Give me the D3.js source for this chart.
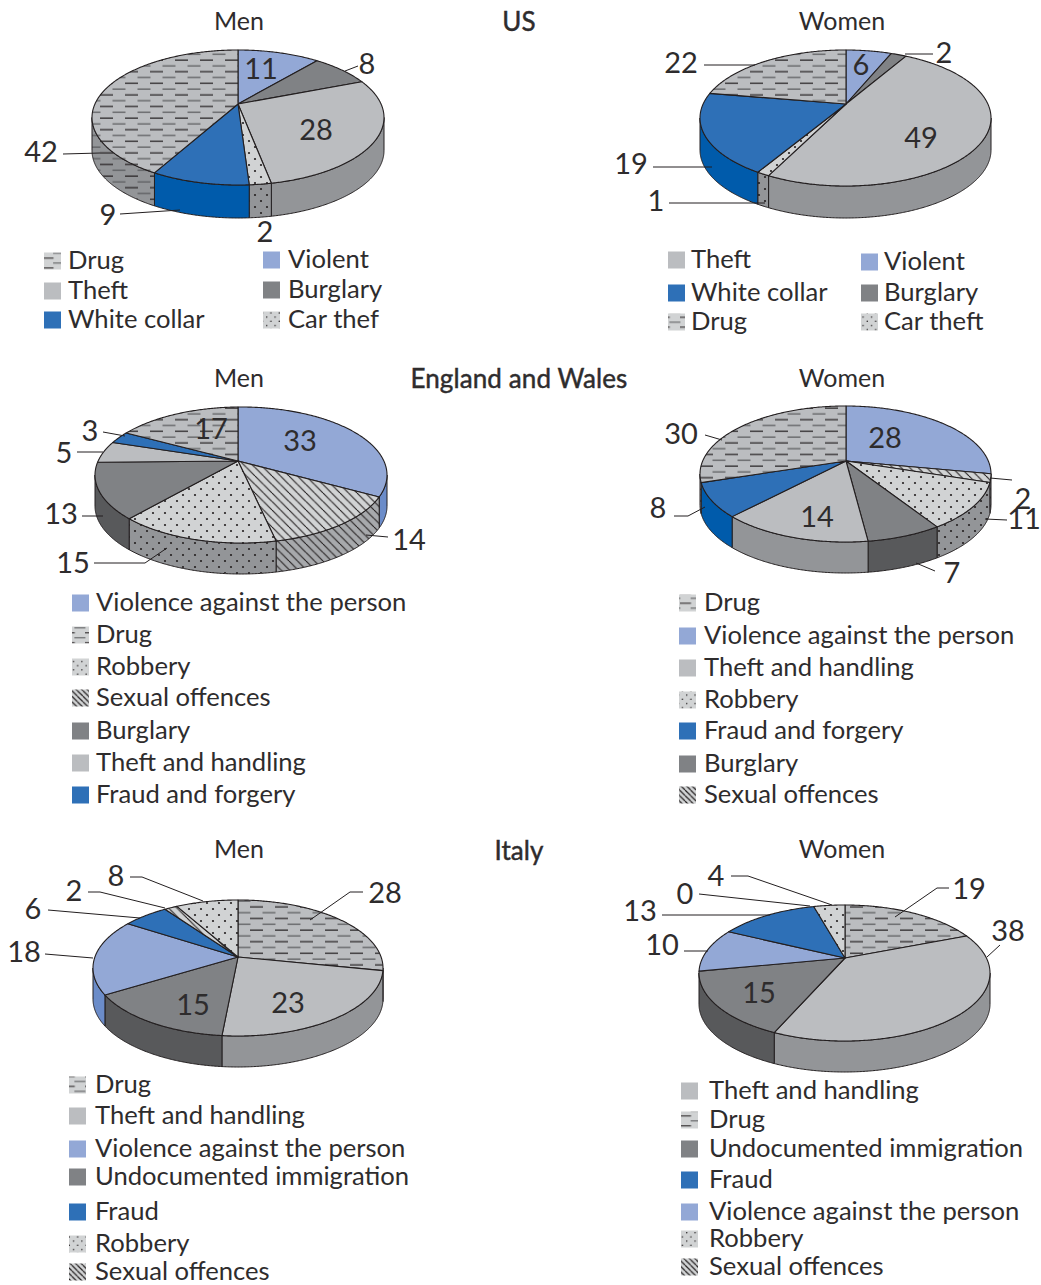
<!DOCTYPE html>
<html><head><meta charset="utf-8">
<script src="https://cdn.jsdelivr.net/npm/d3@7"></script>
<style>
html,body{margin:0;padding:0;background:#fff}
svg{display:block}
text{font-family:Lato,sans-serif;fill:#2e2c2d;font-size:25.6px}
</style></head><body><div id="c"></div>
<script>
// ---------- data ----------
const usMenCats = ["Violent","Burglary","Theft","Car theft","White collar","Drug"];
const usMenValues = [11,8,28,2,9,42];
const usMenLegendA = ["Drug","Theft","White collar"];
const usMenLegendB = ["Violent","Burglary","Car thef"];

const usWomenCats = ["Violent","Burglary","Theft","Car theft","White collar","Drug"];
const usWomenValues = [6,2,49,1,19,22];
// printed figures are rounded; these are the slice sizes as measured on the picture
const usWomenShares = [6.2,2.1,49,1.2,19.2,22.3];
const usWomenLegendA = ["Theft","White collar","Drug"];
const usWomenLegendB = ["Violent","Burglary","Car theft"];

const ewMenCats = ["Violence against the person","Sexual offences","Robbery","Burglary","Theft and handling","Fraud and forgery","Drug"];
const ewMenValues = [33,14,15,13,5,3,17];
const ewMenShares = [33.1,13.5,14.7,13.4,5.3,3,17];
const ewMenLegend = ["Violence against the person","Drug","Robbery","Sexual offences","Burglary","Theft and handling","Fraud and forgery"];

const ewWomenCats = ["Violence against the person","Sexual offences","Robbery","Burglary","Theft and handling","Fraud and forgery","Drug"];
const ewWomenValues = [28,2,11,7,14,8,30];
const ewWomenLegend = ["Drug","Violence against the person","Theft and handling","Robbery","Fraud and forgery","Burglary","Sexual offences"];

const itMenCats = ["Drug","Theft and handling","Undocumented immigration","Violence against the person","Fraud","Sexual offences","Robbery"];
const itMenValues = [28,23,15,18,6,2,8];
const itMenShares = [28.2,23.3,14.7,18,6,1.7,8.1];
const itMenLegend = ["Drug","Theft and handling","Violence against the person","Undocumented immigration","Fraud","Robbery","Sexual offences"];

const itWomenCats = ["Drug","Theft and handling","Undocumented immigration","Violence against the person","Fraud","Sexual offences","Robbery"];
const itWomenValues = [19,38,15,10,13,0,4];
const itWomenShares = [19,37.5,15.4,10.4,13.4,0,4.3];
const itWomenLegend = ["Theft and handling","Drug","Undocumented immigration","Fraud","Violence against the person","Robbery","Sexual offences"];

const headings = ["US","England and Wales","Italy"];

// ---------- styling: category -> kind ----------
const kindOf = {
  "Violent":"violent","Violence against the person":"violent",
  "Burglary":"burglary","Undocumented immigration":"burglary",
  "Theft":"theft","Theft and handling":"theft",
  "White collar":"fraud","Fraud and forgery":"fraud","Fraud":"fraud",
  "Drug":"drug","Robbery":"dots","Car theft":"dots","Car thef":"dots",
  "Sexual offences":"hatch"
};
const solidTop = {violent:"#93a8d6",burglary:"#808285",theft:"#bbbdc0",fraud:"#2e70b7"};
const solidSide = {violent:"#6b8cc9",burglary:"#58595b",theft:"#939598",fraud:"#005bab"};
const ink = "#231f20";

// ---------- layout ----------
const W = 1041, H = 1285;
const svg = d3.select("#c").append("svg").attr("width",W).attr("height",H);
const defs = svg.append("defs");

function dashPattern(id,bg,scale){
  const p = defs.append("pattern").attr("id",id).attr("patternUnits","userSpaceOnUse")
    .attr("width",25).attr("height",11.6).attr("patternTransform",`scale(${scale})`);
  p.append("rect").attr("width",25).attr("height",11.6).attr("fill",bg);
  [[0,1.5,"#231f20"],[12.5,7.3,"#58595b"]].forEach(r=>{
    [r[0], r[0]-25].forEach(x=>{
      p.append("rect").attr("x",x).attr("y",r[1]).attr("width",13).attr("height",1.2).attr("fill",r[2]);
    });
  });
}
function dotPattern(id,bg,scale){
  const p = defs.append("pattern").attr("id",id).attr("patternUnits","userSpaceOnUse")
    .attr("width",12).attr("height",12).attr("patternTransform",`scale(${scale})`);
  p.append("rect").attr("width",12).attr("height",12).attr("fill",bg);
  p.append("circle").attr("cx",3).attr("cy",3).attr("r",1.1).attr("fill",ink);
  p.append("circle").attr("cx",9).attr("cy",9).attr("r",1.1).attr("fill",ink);
}
function hatchPattern(id,bg,scale,w){
  const p = defs.append("pattern").attr("id",id).attr("patternUnits","userSpaceOnUse")
    .attr("width",8.5).attr("height",8.5).attr("patternTransform",`scale(${scale})`);
  p.append("rect").attr("width",8.5).attr("height",8.5).attr("fill",bg);
  [-8.5,0,8.5].forEach(o=>p.append("line").attr("x1",o).attr("y1",0).attr("x2",o+8.5).attr("y2",8.5)
    .attr("stroke",ink).attr("stroke-width",w));
}
dashPattern("drugTop","#bbbdc0",1); dashPattern("drugSide","#939598",1); dashPattern("drugKey","#d1d3d4",.85);
dotPattern("dotsTop","#d1d3d4",1); dotPattern("dotsSide","#939598",1); dotPattern("dotsKey","#d1d3d4",.7);
hatchPattern("hatchTop","#d1d3d4",1,1.1); hatchPattern("hatchSide","#a7a9ac",1,1.1); hatchPattern("hatchKey","#d1d3d4",.65,1.8);

const fillFor = (k,part)=>{
  if(k==="drug"||k==="dots"||k==="hatch") return `url(#${k}${part})`;
  return part==="Side"?solidSide[k]:solidTop[k];
};

const pies = [
 {cats:usMenCats,vals:usMenValues,shares:usMenValues,l:92,r:384,t:50,b:185,ax:238,apex:104,bottom:218,
  labels:[[261,68],[367,63],[316,129],[265,231],[108,214],[41,151]],
  leaders:[[[345,71],[358,66]],[[63,154],[100,153]],[[120,214],[180,210]]]},
 {cats:usWomenCats,vals:usWomenValues,shares:usWomenShares,l:700,r:991,t:50,b:186,ax:846,apex:104,bottom:218,
  labels:[[861,64],[944,52],[921,137],[656,200],[631,163],[681,62]],
  leaders:[[[905,54],[933,54]],[[704,65],[755,65]],[[653,167],[712,167]],[[669,203],[765,203]]]},
 {cats:ewMenCats,vals:ewMenValues,shares:ewMenShares,l:95,r:387,t:407,b:543,ax:238,apex:461,bottom:574,
  labels:[[300,440],[409,539],[73,562],[61,513],[64,452],[90,430],[211,428]],
  leaders:[[[103,432],[125,436]],[[77,452],[103,452]],[[82,516],[103,516]],[[94,563],[145,563],[167,548]],[[366,535],[388,537]]]},
 {cats:ewWomenCats,vals:ewWomenValues,shares:ewWomenValues,l:700,r:991,t:406,b:542,ax:846,apex:461,bottom:573,
  labels:[[885,437],[1023,498],[1024,518],[952,572],[817,516],[658,507],[681,433]],
  leaders:[[[705,435],[722,440]],[[990,478],[1012,480]],[[985,519],[1007,520]],[[916,563],[935,571]],[[674,516],[688,516],[705,507]]]},
 {cats:itMenCats,vals:itMenValues,shares:itMenShares,l:93,r:383,t:900,b:1036,ax:238,apex:957,bottom:1067,
  labels:[[385,892],[288,1002],[193,1004],[24,951],[33,908],[74,890],[116,875]],
  leaders:[[[363,892],[350,892],[310,920]],[[45,954],[93,958]],[[48,910],[140,918]],[[88,892],[100,892],[165,908]],[[130,877],[142,877],[203,901]]]},
 {cats:itWomenCats,vals:itWomenValues,shares:itWomenShares,l:699,r:990,t:905,b:1041,ax:845,apex:958,bottom:1072,
  labels:[[969,888],[1008,930],[759,992],[662,944],[640,910],[685,893],[716,875]],
  leaders:[[[949,888],[937,888],[895,917]],[[1000,945],[987,957]],[[684,951],[708,951]],[[662,915],[770,915]],[[699,894],[810,906]],[[731,876],[748,876],[832,905]]]}
];

const line = d3.line();
const pieGen = d3.pie().sort(null).startAngle(0).endAngle(2*Math.PI);

pies.forEach(P=>{
  const x = d3.scaleLinear().domain([-1,1]).range([P.l,P.r]);
  const y = d3.scaleLinear().domain([-1,1]).range([P.b,P.t]);
  const depth = P.bottom-P.b;
  const ox = x.invert(P.ax), oy = y.invert(P.apex);
  const s = Math.tan(Math.acos(oy)/2);
  // true angle on the disc -> rim angle of the foreshortened ellipse, through the pie's apex
  const rim = a=>{
    if(a<=0) return 0 + Math.atan2(ox, Math.sqrt(1-ox*ox));
    if(a>=2*Math.PI) return 2*Math.PI + Math.atan2(ox, Math.sqrt(1-ox*ox));
    const t2 = Math.tan(a/2);
    let f = Math.abs(a-Math.PI)<1e-9 ? Math.PI : 2*Math.atan(s*t2);
    if(f<0) f+=2*Math.PI;
    const dx=Math.sin(f), dy=Math.cos(f)-oy;
    const A=dx*dx+dy*dy, B=2*(ox*dx+oy*dy), C=ox*ox+oy*oy-1;
    const t=(-B+Math.sqrt(B*B-4*A*C))/(2*A);
    let g=Math.atan2(ox+t*dx,oy+t*dy);
    if(g<0) g+=2*Math.PI;
    return g;
  };
  const at = (f,dy=0)=>[x(Math.sin(f)),y(Math.cos(f))+dy];
  const samples = (a,b,dy=0)=>{
    const n=Math.max(2,Math.ceil((b-a)/0.01));
    return d3.range(n+1).map(i=>at(a+(b-a)*i/n,dy));
  };
  const g = svg.append("g");
  const arcs = pieGen(P.shares).map((d,i)=>({kind:kindOf[P.cats[i]],a0:rim(d.startAngle),a1:rim(d.endAngle),v:d.value}));
  // walls
  arcs.forEach(d=>{
    const a=Math.max(d.a0,Math.PI/2), b=Math.min(d.a1,3*Math.PI/2);
    if(b<=a) return;
    const pts=samples(a,b,0).concat(samples(a,b,depth).reverse());
    g.append("path").attr("d",line(pts)+"Z").attr("fill",fillFor(d.kind,"Side"))
      .attr("stroke",ink).attr("stroke-width",1).attr("stroke-linejoin","round");
  });
  // top slices
  arcs.filter(d=>d.v>0).forEach(d=>{
    const pts=[[P.ax,P.apex]].concat(samples(d.a0,d.a1));
    g.append("path").attr("d",line(pts)+"Z").attr("fill",fillFor(d.kind,"Top"))
      .attr("stroke",ink).attr("stroke-width",1.1).attr("stroke-linejoin","round");
  });
  // leaders + value labels
  P.leaders.forEach(L=>g.append("path").attr("d",line(L)).attr("fill","none").attr("stroke",ink).attr("stroke-width",1));
  P.vals.forEach((v,i)=>g.append("text").attr("x",P.labels[i][0]).attr("y",P.labels[i][1]).attr("dy",".37em")
    .attr("text-anchor","middle").style("font-size","29px").text(v));
});

// ---------- legends ----------
const legends = [
 {items:usMenLegendA,sx:44,tx:68,ys:[261,291,320]},
 {items:usMenLegendB,sx:263,tx:288,ys:[260,290,320]},
 {items:usWomenLegendA,sx:668,tx:691,ys:[260,293,322]},
 {items:usWomenLegendB,sx:861,tx:884,ys:[262,293,322]},
 {items:ewMenLegend,sx:72,tx:96,ys:[603,635,667,698,731,763,795]},
 {items:ewWomenLegend,sx:679,tx:704,ys:[603,636,668,700,731,764,795]},
 {items:itMenLegend,sx:69,tx:95,ys:[1085,1116,1149,1177,1212,1244,1272]},
 {items:itWomenLegend,sx:681,tx:709,ys:[1091,1120,1149,1180,1212,1239,1267]}
];
legends.forEach(L=>{
  L.items.forEach((name,i)=>{
    const k=kindOf[name];
    svg.append("rect").attr("x",L.sx).attr("y",L.ys[i]-8.5).attr("width",17).attr("height",17)
      .attr("fill",(k==="drug"||k==="dots"||k==="hatch")?`url(#${k}Key)`:solidTop[k]);
    svg.append("text").attr("x",L.tx).attr("y",L.ys[i]).attr("dy",".33em").text(name);
  });
});

// ---------- titles ----------
[[239,22,"Men"],[842,22,"Women"],[239,379,"Men"],[842,379,"Women"],[239,850,"Men"],[842,850,"Women"]].forEach(t=>
  svg.append("text").attr("x",t[0]).attr("y",t[1]).attr("dy",".33em").attr("text-anchor","middle")
    .style("font-size","25px").text(t[2]));
[[519,22],[519,379],[519,851]].forEach((p,i)=>
  svg.append("text").attr("x",p[0]).attr("y",p[1]).attr("dy",".33em").attr("text-anchor","middle")
    .style("font-size","26px").style("letter-spacing",".1px").attr("stroke","#2e2c2d").attr("stroke-width",.45).text(headings[i]));
</script></body></html>
